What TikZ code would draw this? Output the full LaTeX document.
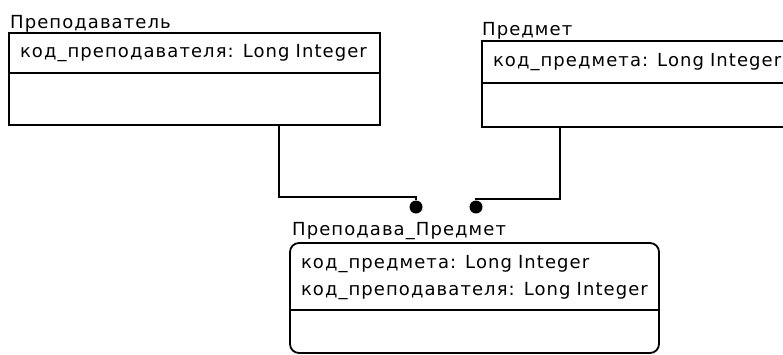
\documentclass[tikz,border=0pt]{standalone}
\usepackage{fontspec}
\setmainfont{DejaVu Sans}[LetterSpace=6]
\usetikzlibrary{positioning, calc}

\begin{document}
\begin{tikzpicture}[x=1pt, y=-1pt,
    title/.style={anchor=base west, inner sep=0pt, font=\fontsize{18}{27}\selectfont},
    attrbox/.style={draw, line width=1.8pt, anchor=north west, inner xsep=11pt, inner ysep=0pt, outer sep=0pt,
      align=left, font=\fontsize{18}{27}\selectfont},
    opsbox/.style={draw, line width=1.8pt, inner sep=0pt, outer sep=0pt},
    joint/.style={circle, fill, inner sep=0pt, minimum size=13pt},
    link/.style={line width=1.8pt}
  ]
  \useasboundingbox (0,0) rectangle (783,354);

  % Преподаватель
  \node[title] (lect_name) at (10,28) {Преподаватель};
  \node[attrbox, text width=349pt, minimum height=40pt] (lect_attr) at (9,33) {код\_преподавателя: Long Integer};
  \node[opsbox, minimum width=371pt, minimum height=52pt, below=0pt of lect_attr] (lect_ops) {};

  % Предмет
  \node[title] (subj_name) at (482,35) {Предмет};
  \node[attrbox, text width=298pt, minimum height=42pt] (subj_attr) at (482,41) {код\_предмета: Long Integer};
  \node[opsbox, minimum width=320pt, minimum height=44pt, below=0pt of subj_attr] (subj_ops) {};

  % Преподава_Предмет
  \node[title] (pp_name) at (292,235) {Преподава\_Предмет};
  \node[attrbox, draw=none, text width=347pt, minimum height=64pt] (pp_attr) at (290,246)
    {код\_предмета: Long Integer\\код\_преподавателя: Long Integer};
  \draw[link] (pp_attr.south west) -- (pp_attr.south east);
  \node[opsbox, draw=none, minimum width=369pt, minimum height=43pt, below=0pt of pp_attr] (pp_ops) {};
  \draw[link, rounded corners=9pt] ([yshift=3pt]pp_attr.north west) rectangle (pp_ops.south east);

  % связи
  \node[joint] (lect_end) at (416,207) {};
  \node[joint] (subj_end) at (476,207) {};
  \coordinate (lect_foot) at ([xshift=270pt]lect_ops.south west);
  \coordinate (subj_foot) at ([xshift=78pt]subj_ops.south west);
  \draw[link] (lect_foot) |- ([yshift=3.5pt]lect_end.north) -- (lect_end);
  \draw[link] (subj_foot) |- ([yshift=1.5pt]subj_end.north) -- (subj_end);
\end{tikzpicture}
\end{document}
